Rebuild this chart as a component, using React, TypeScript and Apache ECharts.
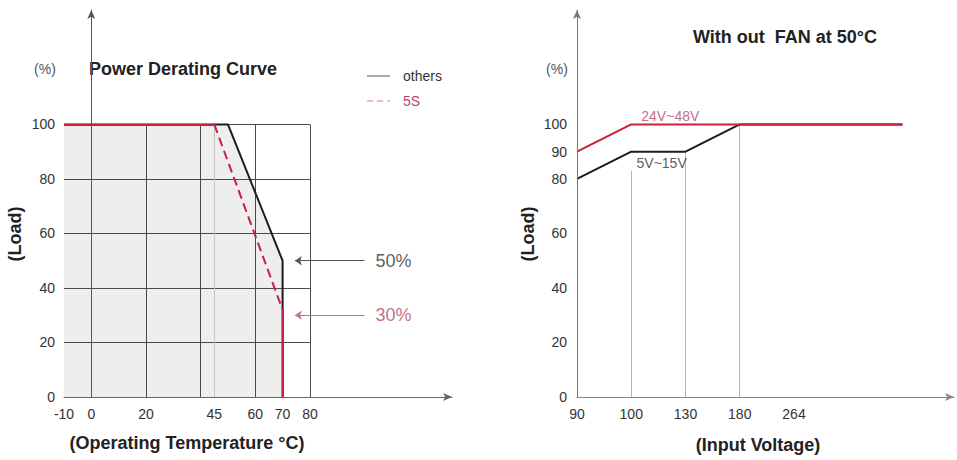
import React, { useEffect, useRef } from "react";
import * as echarts from "echarts";

// ---------- Left chart: Power Derating Curve ----------
const tempLabels = [-10, 0, 20, 45, 60, 70, 80];
const loadLabels = [0, 20, 40, 60, 80, 100];
const gridTemps = [0, 20, 40, 60, 80];
const gridLoads = [20, 40, 60, 80, 100];
const faintTemps = [45];
const othersTemp = [-10, 50, 70, 70];
const othersLoad = [100, 100, 50, 0];
const fiveSTemp = [-10, 45, 70, 70];
const fiveSLoad = [100, 100, 32, 0];
const calloutLoads = [50, 30];
const calloutTexts = ["50%", "30%"];
const legendNames = ["others", "5S"];

// ---------- Right chart: Without fan at 50°C ----------
const voltageLabels = ["90", "100", "130", "180", "264"];
const loadLabelsRight = [0, 20, 40, 60, 80, 90, 100];
const red24to48 = [90, 100, 100, 100, 100, 100, 100];
const black5to15 = [80, 90, 90, 100, 100, 100, 100];
const dropIndex = [1, 2, 3];
const dropTop = [83, 90, 100];
const curveLabels = [
  { text: "24V~48V", at: [1.72, 103] },
  { text: "5V~15V", at: [1.56, 86] },
];

const RED = "#c8203f";
const RED_TEXT = "#b4466a";
const BLACK = "#1c1c1c";
const FONT = "'Liberation Sans', Arial, Helvetica, sans-serif";

export default function App() {
  const ref = useRef<HTMLDivElement>(null);

  useEffect(() => {
    if (!ref.current) return;
    const chart = echarts.init(ref.current, undefined, { renderer: "svg" });

    const zip = (xs: number[], ys: number[]) => xs.map((x, i) => [x, ys[i]]);
    const others = zip(othersTemp, othersLoad);
    const fiveS = zip(fiveSTemp, fiveSLoad);

    const gridLines = [
      ...gridTemps.map((t) => ({ coords: [[t, 0], [t, 100]] })),
      ...gridLoads.map((l) => ({ coords: [[tempLabels[0], l], [80, l]] })),
    ];

    const axisLabelBase = { color: "#333", fontSize: 14, fontFamily: FONT };
    const arrowLine = (color: string) => ({
      show: true,
      lineStyle: { color, width: 1 },
      symbol: ["none", "arrow"],
      symbolSize: [6, 9],
    });

    const option: any = {
      animation: false,
      backgroundColor: "#ffffff",
      textStyle: { fontFamily: FONT },
      grid: [
        { left: 64, top: 10, width: 388, height: 387 },
        { left: 577, top: 10, width: 380, height: 387 },
      ],
      xAxis: [
        {
          gridIndex: 0,
          type: "value",
          min: -10,
          max: 132,
          interval: 5,
          z: 6,
          axisLine: arrowLine("#666"),
          axisTick: { show: false },
          splitLine: { show: false },
          axisLabel: {
            ...axisLabelBase,
            margin: 10,
            formatter: (v: number) => (tempLabels.includes(v) ? String(v) : ""),
          },
        },
        {
          gridIndex: 1,
          type: "value",
          min: 0,
          max: 6.95,
          interval: 1,
          z: 6,
          axisLine: arrowLine("#888"),
          axisTick: { show: false },
          splitLine: { show: false },
          axisLabel: {
            ...axisLabelBase,
            margin: 10,
            formatter: (v: number) => voltageLabels[v] ?? "",
          },
        },
      ],
      yAxis: [
        {
          gridIndex: 0,
          type: "value",
          min: 0,
          max: 142,
          interval: 10,
          z: 6,
          axisLine: arrowLine("#555"),
          axisTick: { show: false },
          splitLine: { show: false },
          axisLabel: {
            ...axisLabelBase,
            margin: 9,
            formatter: (v: number) => (loadLabels.includes(v) ? String(v) : ""),
          },
        },
        {
          gridIndex: 1,
          type: "value",
          min: 0,
          max: 142,
          interval: 10,
          z: 6,
          axisLine: arrowLine("#777"),
          axisTick: { show: false },
          splitLine: { show: false },
          axisLabel: {
            ...axisLabelBase,
            margin: 10,
            formatter: (v: number) => (loadLabelsRight.includes(v) ? String(v) : ""),
          },
        },
      ],
      series: [
        // light fill under the "others" curve
        {
          name: "fill",
          type: "line",
          xAxisIndex: 0,
          yAxisIndex: 0,
          z: 1,
          data: others,
          symbol: "none",
          silent: true,
          lineStyle: { width: 0, opacity: 0 },
          areaStyle: { color: "#eeeeee", opacity: 1 },
        },
        // grid lines
        {
          name: "grid",
          type: "lines",
          coordinateSystem: "cartesian2d",
          xAxisIndex: 0,
          yAxisIndex: 0,
          z: 2,
          silent: true,
          symbol: ["none", "none"],
          lineStyle: { color: "#4a4a4a", width: 1, opacity: 1 },
          data: gridLines,
        },
        {
          name: "faint",
          type: "lines",
          coordinateSystem: "cartesian2d",
          xAxisIndex: 0,
          yAxisIndex: 0,
          z: 2,
          silent: true,
          symbol: ["none", "none"],
          lineStyle: { color: "#c4c4c4", width: 1, opacity: 1 },
          data: faintTemps.map((t) => ({ coords: [[t, 0], [t, 100]] })),
        },
        {
          name: "others",
          type: "line",
          xAxisIndex: 0,
          yAxisIndex: 0,
          z: 3,
          data: others,
          symbol: "none",
          color: BLACK,
          lineStyle: { color: BLACK, width: 2 },
        },
        {
          name: "5S",
          type: "line",
          xAxisIndex: 0,
          yAxisIndex: 0,
          z: 4,
          data: fiveS.slice(1, 3),
          symbol: "none",
          color: RED,
          lineStyle: { color: RED, width: 2, type: [9, 5] },
        },
        {
          name: "5S-solid",
          type: "lines",
          coordinateSystem: "cartesian2d",
          xAxisIndex: 0,
          yAxisIndex: 0,
          z: 4,
          silent: true,
          symbol: ["none", "none"],
          lineStyle: { color: RED, width: 2, opacity: 1 },
          data: [{ coords: fiveS.slice(0, 2) }, { coords: fiveS.slice(2, 4) }],
        },
        // callout arrows
        {
          name: "callouts",
          type: "lines",
          coordinateSystem: "cartesian2d",
          xAxisIndex: 0,
          yAxisIndex: 0,
          z: 3,
          silent: true,
          symbol: ["none", "arrow"],
          symbolSize: 7,
          data: calloutLoads.map((l, i) => ({
            coords: [[100, l], [74.5, l]],
            lineStyle: { color: i === 0 ? "#555" : "#c9708a", width: 1, opacity: 1 },
          })),
        },
        {
          name: "calloutText",
          type: "scatter",
          xAxisIndex: 0,
          yAxisIndex: 0,
          z: 3,
          silent: true,
          symbolSize: 1,
          itemStyle: { color: "transparent" },
          data: calloutLoads.map((l, i) => ({
            value: [102, l],
            label: {
              show: true,
              position: "right",
              distance: 5,
              formatter: calloutTexts[i],
              fontSize: 18,
              fontFamily: FONT,
              color: i === 0 ? "#333" : RED_TEXT,
            },
          })),
        },
        // right chart: drop lines
        {
          name: "drops",
          type: "lines",
          coordinateSystem: "cartesian2d",
          xAxisIndex: 1,
          yAxisIndex: 1,
          z: 2,
          silent: true,
          symbol: ["none", "none"],
          lineStyle: { color: "#b5b5b5", width: 1, opacity: 1 },
          data: dropIndex.map((x, i) => ({ coords: [[x, 0], [x, dropTop[i]]] })),
        },
        {
          name: "5V~15V",
          type: "line",
          xAxisIndex: 1,
          yAxisIndex: 1,
          z: 3,
          data: black5to15.map((v, i) => [i, v]),
          symbol: "none",
          lineStyle: { color: BLACK, width: 2 },
        },
        {
          name: "24V~48V",
          type: "line",
          xAxisIndex: 1,
          yAxisIndex: 1,
          z: 4,
          data: red24to48.map((v, i) => [i, v]),
          symbol: "none",
          lineStyle: { color: RED, width: 2 },
        },
        {
          name: "curveLabels",
          type: "scatter",
          xAxisIndex: 1,
          yAxisIndex: 1,
          z: 5,
          silent: true,
          symbolSize: 1,
          itemStyle: { color: "transparent" },
          data: curveLabels.map((c, i) => ({
            value: c.at,
            label: {
              show: true,
              position: "inside",
              formatter: c.text,
              fontSize: 14,
              fontFamily: FONT,
              color: i === 0 ? RED_TEXT : "#333",
            },
          })),
        },
      ],
      graphic: [
        // legend
        {
          type: "line",
          shape: { x1: 367, y1: 76, x2: 390, y2: 76 },
          style: { stroke: "#555", lineWidth: 1 },
        },
        {
          type: "text",
          x: 403,
          y: 76,
          style: { text: legendNames[0], fill: "#333", font: `14px ${FONT}`, align: "left", verticalAlign: "middle" },
        },
        {
          type: "line",
          shape: { x1: 367, y1: 101, x2: 390, y2: 101 },
          style: { stroke: "#d37a93", lineWidth: 1.2, lineDash: [6, 4] },
        },
        {
          type: "text",
          x: 403,
          y: 101,
          style: { text: legendNames[1], fill: RED_TEXT, font: `14px ${FONT}`, align: "left", verticalAlign: "middle" },
        },
        {
          type: "text",
          x: 45,
          y: 69,
          style: { text: "(%)", fill: "#555", font: `14px ${FONT}`, align: "center", verticalAlign: "middle" },
        },
        {
          type: "text",
          x: 89,
          y: 69,
          style: {
            text: "Power Derating Curve",
            fill: "#222",
            font: `bold 18px ${FONT}`,
            align: "left",
            verticalAlign: "middle",
          },
        },
        {
          type: "text",
          x: 15,
          y: 234,
          rotation: Math.PI / 2,
          style: { text: "(Load)", fill: "#222", font: `bold 18px ${FONT}`, align: "center", verticalAlign: "middle" },
        },
        {
          type: "text",
          x: 187,
          y: 443,
          style: {
            text: "(Operating Temperature °C)",
            fill: "#222",
            font: `bold 18px ${FONT}`,
            align: "center",
            verticalAlign: "middle",
          },
        },
        {
          type: "text",
          x: 557,
          y: 69,
          style: { text: "(%)", fill: "#555", font: `14px ${FONT}`, align: "center", verticalAlign: "middle" },
        },
        {
          type: "text",
          x: 785,
          y: 37,
          style: {
            text: "With out  FAN at 50°C",
            fill: "#222",
            font: `bold 18px ${FONT}`,
            align: "center",
            verticalAlign: "middle",
          },
        },
        {
          type: "text",
          x: 528,
          y: 234,
          rotation: Math.PI / 2,
          style: { text: "(Load)", fill: "#222", font: `bold 18px ${FONT}`, align: "center", verticalAlign: "middle" },
        },
        {
          type: "text",
          x: 758,
          y: 445,
          style: {
            text: "(Input Voltage)",
            fill: "#222",
            font: `bold 18px ${FONT}`,
            align: "center",
            verticalAlign: "middle",
          },
        },
      ],
    };

    chart.setOption(option);
    return () => chart.dispose();
  }, []);

  return (
    <div
      ref={ref}
      style={{ position: "absolute", left: 0, top: 0, width: 957, height: 460, background: "#fff" }}
    />
  );
}
